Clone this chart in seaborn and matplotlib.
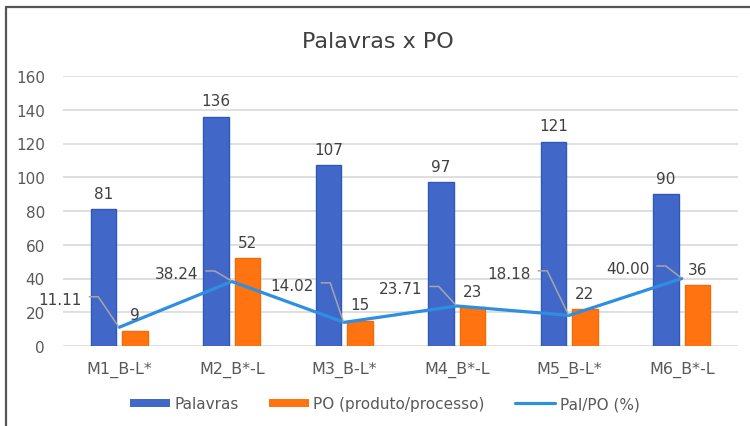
import matplotlib
matplotlib.use("Agg")
import matplotlib.pyplot as plt
from matplotlib.lines import Line2D
from matplotlib.transforms import IdentityTransform
import numpy as np
import pandas as pd
import seaborn as sns

categories = ["M1_B-L*", "M2_B*-L", "M3_B-L*", "M4_B*-L", "M5_B-L*", "M6_B*-L"]
palavras = [81, 136, 107, 97, 121, 90]
po = [9, 52, 15, 23, 22, 36]
pal_po = [11.11, 38.24, 14.02, 23.71, 18.18, 40.00]

series_names = ["Palavras", "PO (produto/processo)"]
line_name = "Pal/PO (%)"

# label placement for the line labels (pixels from the point: text centre)
line_label_offsets = [(-59, 28), (-55, 8), (-52, 37), (-56, 17), (-60, 42), (-54, 10)]

sns.set_theme(style="white")
plt.rcParams["font.family"] = ["DejaVu Sans"]

df = pd.DataFrame({
    "categoria": categories * 2,
    "valor": palavras + po,
    "serie": [series_names[0]] * len(categories) + [series_names[1]] * len(categories),
})

fig = plt.figure(figsize=(7.5, 4.27), dpi=100)
ax = fig.add_axes([63 / 750, 80 / 427, 675 / 750, 270 / 427])

sns.barplot(data=df, x="categoria", y="valor", hue="serie",
            palette=["#4168C9", "#FF7410"], saturation=1, width=0.56, gap=0.2,
            linewidth=0, ax=ax)
for container, edge in zip(ax.containers, ["#2F58BC", "#F26A0A"]):
    for bar in container:
        bar.set_edgecolor(edge)
        bar.set_linewidth(1)
    ax.bar_label(container, padding=6, fontsize=11, color="#404040")

x_pos = np.arange(len(categories))
sns.lineplot(x=x_pos, y=pal_po, color="#2E8FE0", linewidth=2.3, sort=False,
             label=line_name, ax=ax)

ax.set_xlim(-0.5, len(categories) - 0.5)
ax.set_ylim(0, 160)
ax.set_yticks(range(0, 161, 20))
ax.yaxis.grid(True, color="#D9D9D9", linewidth=1.2)
ax.set_axisbelow(True)
for side in ["top", "right", "left", "bottom"]:
    ax.spines[side].set_visible(False)
ax.tick_params(axis="x", length=0, pad=11, labelsize=11.5, labelcolor="#595959")
ax.tick_params(axis="y", length=0, pad=13, labelsize=11, labelcolor="#595959")
ax.set_xlabel("")
ax.set_ylabel("")

# line labels with leader lines
for i, (val, (dx, dy)) in enumerate(zip(pal_po, line_label_offsets)):
    ax.annotate(f"{val:.2f}", xy=(i, val), xytext=(dx, dy), textcoords="offset pixels",
                ha="center", va="center", fontsize=11, color="#404040")
    px, py = ax.transData.transform((i, val))
    x0 = px + dx + 29
    x1 = px + dx + 38
    yy = py + dy + 2.5
    fig.add_artist(Line2D([x0, x1, px - 1], [yy, yy, py + 1], color="#A6A6A6",
                          linewidth=1.1, transform=IdentityTransform()))

handles, labels = ax.get_legend_handles_labels()
if ax.legend_:
    ax.legend_.remove()
fig.legend(handles, labels, loc="center", bbox_to_anchor=(0.513, 0.052), ncol=3,
           frameon=False, fontsize=11, handlelength=2.6, handleheight=0.5,
           columnspacing=2.0, handletextpad=0.3, labelcolor="#595959")

fig.text(0.504, 0.901, "Palavras x PO", ha="center", va="center", fontsize=16, color="#404040")

# chart frame (top and left edges)
fig.add_artist(Line2D([6 / 750, 1], [1 - 8 / 427, 1 - 8 / 427], color="#555555",
                      linewidth=1.6, transform=fig.transFigure))
fig.add_artist(Line2D([6 / 750, 6 / 750], [0, 1 - 8 / 427], color="#555555",
                      linewidth=1.6, transform=fig.transFigure))

fig.savefig("out.png", dpi=100)
